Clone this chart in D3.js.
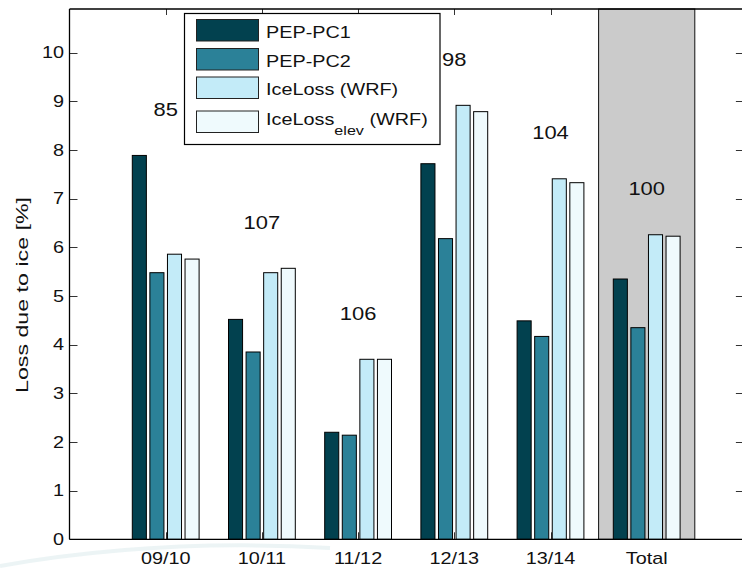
<!DOCTYPE html>
<html>
<head>
<meta charset="utf-8">
<script src="https://cdn.jsdelivr.net/npm/d3@7"></script>
<style>
  html, body { margin: 0; padding: 0; background: #ffffff; }
  svg { display: block; }
  text { font-family: "Liberation Sans", Arial, Helvetica, sans-serif; fill: #111; }
</style>
</head>
<body>
<svg id="chart" width="742" height="571"></svg>
<script>
// Seasonal loss due to icing, per winter and in total
const categories = ["09/10", "10/11", "11/12", "12/13", "13/14", "Total"];
const pepPC1 = [7.89, 4.52, 2.20, 7.72, 4.49, 5.35];
const pepPC2 = [5.48, 3.85, 2.14, 6.18, 4.17, 4.35];
const iceLossWRF = [5.86, 5.48, 3.70, 8.92, 7.41, 6.26];
const iceLossElevWRF = [5.76, 5.57, 3.70, 8.79, 7.33, 6.23];
const caseCounts = [85, 107, 106, 98, 104, 100];
const yTickValues = [0, 1, 2, 3, 4, 5, 6, 7, 8, 9, 10];

const seriesNames = ["PEP-PC1", "PEP-PC2", "IceLoss (WRF)", "IceLoss_elev (WRF)"];
const seriesValues = [pepPC1, pepPC2, iceLossWRF, iceLossElevWRF];
const seriesColors = ["#02414f", "#2b8198", "#c3ebf8", "#effafd"];

const svg = d3.select("#chart");
const FONT_STRETCH = 1.24;

const x = d3.scaleLinear().domain([0, 7]).range([69.5, 742.9]);
const y = d3.scaleLinear().domain([0, 10.9]).range([539.3, 9]);
const sub = d3.scaleBand().domain(d3.range(seriesNames.length)).range([-33.4, 33.4]).paddingInner(0.2);

// helper: horizontally widened text
function label(g, tx, ty, str, size, anchor, sx) {
  return g.append("text")
    .attr("transform", `translate(${tx},${ty}) scale(${sx || FONT_STRETCH},1)`)
    .attr("font-size", size)
    .attr("text-anchor", anchor)
    .text(str);
}

// faint background swoosh
svg.append("path")
  .attr("d", "M0,566 Q160,538 330,548")
  .attr("fill", "none").attr("stroke", "#e4f0f1").attr("stroke-width", 4).attr("opacity", 0.7);

const plot = svg.append("g");

// tick marks (drawn beneath the data)
const ticks = plot.append("g").attr("stroke", "#333").attr("stroke-width", 1);
categories.forEach((c, i) => {
  const cx = Math.round(x(i + 1)) + 0.5;
  ticks.append("line").attr("x1", cx).attr("x2", cx).attr("y1", y(0)).attr("y2", y(0) - 7);
  ticks.append("line").attr("x1", cx).attr("x2", cx).attr("y1", y(10.9)).attr("y2", y(10.9) + 6);
});
yTickValues.forEach(v => {
  const ty = Math.round(y(v)) + 0.5;
  ticks.append("line").attr("x1", x(0)).attr("x2", x(0) + 8).attr("y1", ty).attr("y2", ty);
  ticks.append("line").attr("x1", x(7)).attr("x2", x(7) - 7).attr("y1", ty).attr("y2", ty);
});

// shaded band behind the overall column
plot.append("rect")
  .attr("x", x(5.5)).attr("y", y(10.9))
  .attr("width", x(6.5) - x(5.5)).attr("height", y(0) - y(10.9))
  .attr("fill", "#cbcbcb").attr("stroke", "#111").attr("stroke-width", 1);

// grouped bars
const groups = plot.selectAll("g.grp").data(categories).join("g")
  .attr("class", "grp")
  .attr("transform", (d, i) => `translate(${x(i + 1)},0)`);
groups.selectAll("rect").data((d, i) => seriesValues.map((s, k) => ({ k, v: s[i] }))).join("rect")
  .attr("x", d => sub(d.k))
  .attr("width", sub.bandwidth())
  .attr("y", d => y(d.v))
  .attr("height", d => y(0) - y(d.v))
  .attr("fill", d => seriesColors[d.k])
  .attr("stroke", "#000").attr("stroke-width", 1);

// number of cases above each group
const counts = plot.append("g");
caseCounts.forEach((n, i) => {
  const top = d3.max(seriesValues, s => s[i]);
  label(counts, x(i + 1), y(top + 0.95) + 6.6, String(n), 18, "middle", 1.22);
});

// axes box
const box = plot.append("g").attr("stroke", "#000").attr("stroke-width", 1.3).attr("fill", "none");
box.append("line").attr("x1", x(0)).attr("x2", x(7)).attr("y1", y(0)).attr("y2", y(0));
box.append("line").attr("x1", x(0)).attr("x2", x(7)).attr("y1", y(10.9)).attr("y2", y(10.9));
box.append("line").attr("x1", x(0)).attr("x2", x(0)).attr("y1", y(0)).attr("y2", y(10.9));

// tick labels
const axisText = svg.append("g");
yTickValues.forEach(v => label(axisText, 64, y(v) + 5.7, String(v), 16, "end"));
categories.forEach((c, i) => label(axisText, x(i + 1), 564, c, 16, "middle"));

// y axis title
svg.append("text")
  .attr("transform", "translate(28,295) rotate(-90) scale(1.45,1.05)")
  .attr("font-size", 16)
  .attr("text-anchor", "middle")
  .text("Loss due to ice [%]");

// legend
const legend = svg.append("g");
legend.append("rect").attr("x", 184.5).attr("y", 13.5).attr("width", 255.5).attr("height", 131)
  .attr("fill", "#fff").attr("stroke", "#000").attr("stroke-width", 1.2);
const swatchTop = [19.5, 48.5, 77, 111];
const textBase = [37.7, 66.7, 95, 125];
seriesNames.forEach((name, k) => {
  legend.append("rect").attr("x", 196.5).attr("y", swatchTop[k]).attr("width", 62).attr("height", 21.5)
    .attr("fill", seriesColors[k]).attr("stroke", "#222").attr("stroke-width", 1);
  const t = legend.append("text")
    .attr("transform", `translate(266,${textBase[k]}) scale(1.24,1)`)
    .attr("font-size", 16);
  if (name.includes("_")) {
    const [base, rest] = name.split("_");
    const [subTxt, ...tail] = rest.split(" ");
    t.append("tspan").text(base);
    t.append("tspan").attr("font-size", 13).attr("dy", 10).text(subTxt);
    t.append("tspan").attr("dy", -10).text("\u00a0" + tail.join(" "));
  } else {
    t.text(name);
  }
});
</script>
</body>
</html>
